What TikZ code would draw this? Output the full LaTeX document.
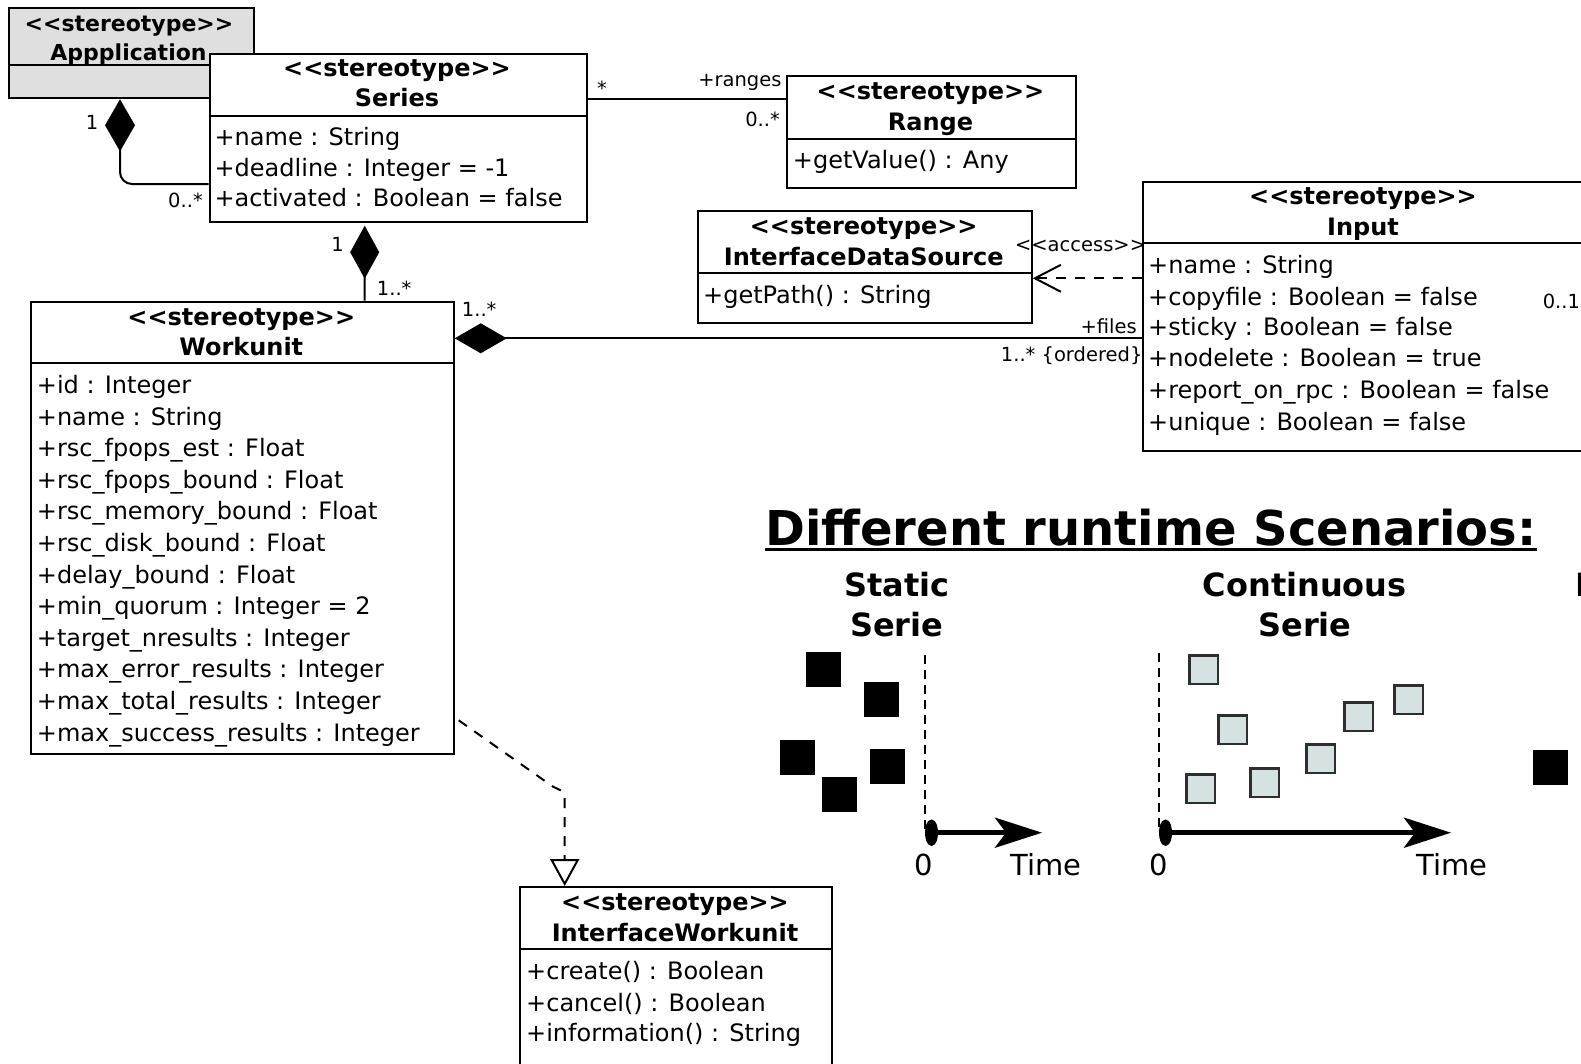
\documentclass[tikz,border=0pt]{standalone}
\usepackage{fontspec}
\newfontfamily\uml{DejaVu Sans}
\usetikzlibrary{arrows.meta,calc}

\definecolor{appgray}{HTML}{DFDFDF}
\definecolor{slotfill}{HTML}{D6E1E1}
\definecolor{slotline}{HTML}{2E2E2E}

\tikzset{
  umlbox/.style={draw, line width=2pt, fill=white, inner sep=0pt, anchor=north west},
  hd/.style={inner sep=0pt, anchor=base, font=\uml\bfseries\fontsize{24}{28}\selectfont},
  attr/.style={inner sep=0pt, anchor=base west, font=\uml\fontsize{24}{28}\selectfont},
  lbl/.style={inner sep=0pt, font=\uml\fontsize{19.5}{22}\selectfont},
  conn/.style={line width=2pt},
  dep/.style={line width=2pt, dash pattern=on 10pt off 9pt},
  compo/.style={{Diamond[length=52pt,width=30pt]}-},
  scen/.style={inner sep=0pt, anchor=base, font=\uml\bfseries\fontsize{32}{36}\selectfont},
  axislbl/.style={inner sep=0pt, font=\uml\fontsize{29}{32}\selectfont},
  job/.style={fill=black, draw=none, inner sep=0pt, minimum size=35pt, anchor=north west},
  slot/.style={fill=slotfill, draw=slotline, line width=2.5pt, inner sep=0pt, minimum size=28.5pt},
  startline/.style={line width=2.5pt, dash pattern=on 9pt off 6pt},
  timeaxis/.style={line width=5pt, {Ellipse[length=13pt,width=26pt]}-{Stealth[length=47pt,width=30pt,inset=11pt]}}
}

\begin{document}
\begin{tikzpicture}[x=1pt, y=-1pt]
\useasboundingbox (0,0) rectangle (1581,1063);
\clip (0,0) rectangle (1581,1063);
\fill[white] (0,0) rectangle (1581,1063);

% ---------- Application ----------
\node[umlbox, fill=appgray, minimum width=245pt, minimum height=90.6pt] (app) at (7.7,6.7) {};
\draw[conn] ([yshift=-58.3pt]app.north west) -- ([yshift=-58.3pt]app.north east);
\node[hd, font=\uml\bfseries\fontsize{22}{26}\selectfont] (app-st) at (129,31.2) {<<stereotype>>};
\node[hd, font=\uml\bfseries\fontsize{22}{26}\selectfont] (app-name) at (128.5,60.2) {Appplication};

% ---------- Series ----------
\node[umlbox, minimum width=376.9pt, minimum height=168pt] (series) at (208.6,52.7) {};
\draw[conn] ([yshift=-63.3pt]series.north west) -- ([yshift=-63.3pt]series.north east);
\node[hd] (series-st) at (397,76.5) {<<stereotype>>};
\node[hd] (series-name) at (397,106.5) {Series};
\node[attr] (series-a1) at (214.4,145.2) {+name : String};
\node[attr] (series-a2) at (214.4,176.8) {+deadline : Integer = -1};
\node[attr] (series-a3) at (214.4,206.8) {+activated : Boolean = false};

% ---------- Range ----------
\node[umlbox, minimum width=289pt, minimum height=112pt] (range) at (786,75) {};
\draw[conn] ([yshift=-64pt]range.north west) -- ([yshift=-64pt]range.north east);
\node[hd] (range-st) at (930.5,99.2) {<<stereotype>>};
\node[hd] (range-name) at (930.5,130.2) {Range};
\node[attr] (range-a1) at (792.7,168.5) {+getValue() : Any};

% ---------- InterfaceDataSource ----------
\node[umlbox, minimum width=334pt, minimum height=112.3pt] (ids) at (696.7,210) {};
\draw[conn] ([yshift=-63.3pt]ids.north west) -- ([yshift=-63.3pt]ids.north east);
\node[hd] (ids-st) at (863.7,234.2) {<<stereotype>>};
\node[hd] (ids-name) at (863.7,265.2) {InterfaceDataSource};
\node[attr] (ids-a1) at (703,303.5) {+getPath() : String};

% ---------- Input ----------
\node[umlbox, minimum width=442pt, minimum height=269.3pt] (input) at (1141.9,180.7) {};
\draw[conn] ([yshift=-62.6pt]input.north west) -- ([yshift=-62.6pt]input.north east);
\node[hd] (input-st) at (1363,204.5) {<<stereotype>>};
\node[hd] (input-name) at (1363,235.8) {Input};
\node[attr] (input-a1) at (1148,273.5) {+name : String};
\node[attr] (input-a2) at (1148,305.2) {+copyfile : Boolean = false};
\node[attr] (input-a3) at (1148,335.2) {+sticky : Boolean = false};
\node[attr] (input-a4) at (1148,366.8) {+nodelete : Boolean = true};
\node[attr] (input-a5) at (1148,398.5) {+report\_on\_rpc : Boolean = false};
\node[attr] (input-a6) at (1148,430.2) {+unique : Boolean = false};

% ---------- Workunit ----------
\node[umlbox, minimum width=422.7pt, minimum height=452pt] (workunit) at (30,300.7) {};
\draw[conn] ([yshift=-62.6pt]workunit.north west) -- ([yshift=-62.6pt]workunit.north east);
\node[hd] (wu-st) at (241.3,325.2) {<<stereotype>>};
\node[hd] (wu-name) at (241.3,355.2) {Workunit};
\foreach \t [count=\i from 0] in {%
  +id : Integer,
  +name : String,
  +rsc\_fpops\_est : Float,
  +rsc\_fpops\_bound : Float,
  +rsc\_memory\_bound : Float,
  +rsc\_disk\_bound : Float,
  +delay\_bound : Float,
  +min\_quorum : Integer = 2,
  +target\_nresults : Integer,
  +max\_error\_results : Integer,
  +max\_total\_results : Integer,
  +max\_success\_results : Integer}
  \node[attr] (wu-a\i) at (36.7,393.5+31.6*\i) {\t};

% ---------- InterfaceWorkunit ----------
\node[umlbox, minimum width=311.4pt, minimum height=200pt] (iwu) at (519.3,886) {};
\draw[conn] ([yshift=-63.3pt]iwu.north west) -- ([yshift=-63.3pt]iwu.north east);
\node[hd] (iwu-st) at (675,910.2) {<<stereotype>>};
\node[hd] (iwu-name) at (675,941.8) {InterfaceWorkunit};
\node[attr] (iwu-a1) at (526,979.2) {+create() : Boolean};
\node[attr] (iwu-a2) at (526,1011.8) {+cancel() : Boolean};
\node[attr] (iwu-a3) at (526,1041.8) {+information() : String};

% ---------- Connectors ----------
% Application <>-- Series
\draw[conn, compo, rounded corners=12pt] ([xshift=112.3pt]app.south west) |- ([yshift=-46.3pt]series.west);
\node[lbl, anchor=base] (l-app1) at (92,129) {1};
\node[lbl, anchor=base east] (l-app2) at (203,207) {0..*};

% Series --- Range
\coordinate (sr) at ([yshift=-46.6pt]series.north east);
\draw[conn] (sr) -- (sr -| range.west);
\node[lbl, anchor=base] (l-sr1) at (602,95.7) {*};
\node[lbl, anchor=base east] (l-sr2) at (781.7,86) {+ranges};
\node[lbl, anchor=base east] (l-sr3) at (780,126.7) {0..*};

% Series <>-- Workunit
\draw[conn, {Diamond[length=53pt,width=29pt]}-] ([xshift=156.1pt,yshift=-3pt]series.south west) -- ([xshift=334.7pt]workunit.north west);
\node[lbl, anchor=base] (l-sw1) at (337.5,251.7) {1};
\node[lbl, anchor=base west] (l-sw2) at (376.7,295) {1..*};

% Workunit <>-- Input
\coordinate (wi) at ([yshift=-37.6pt]workunit.north east);
\draw[conn, compo] (wi) -- (wi -| input.west);
\node[lbl, anchor=base west] (l-wi1) at (461.7,316.7) {1..*};
\node[lbl, anchor=base east] (l-wi2) at (1137,333.3) {+files};
\node[lbl, anchor=base east] (l-wi3) at (1142.6,361) {1..* \{ordered\}};
\node[lbl, anchor=base west] (l-in1) at (1542.6,308.3) {0..1};

% Input - - > InterfaceDataSource
\coordinate (ia) at ([yshift=-97.6pt]input.north west);
\draw[dep, -{Straight Barb[length=26pt,width=27pt,line width=2pt]}] (ia) -- (ia -| ids.east);
\node[lbl, anchor=base west] (l-acc) at (1014.8,251.7) {<<access>>};

% Workunit - - |> InterfaceWorkunit
\coordinate (wr) at ([xshift=4pt,yshift=34.4pt]workunit.south east);
\coordinate (wr-top) at ([xshift=45.4pt]iwu.north west);
\draw[dep, -{Triangle[open,length=27pt,width=29pt,line width=2pt]}]
  (wr) -- (553,786.7) .. controls (564.7,792) .. (564.7,801) -- (wr-top);

% ---------- Runtime scenarios ----------
\node[inner sep=0pt, anchor=base west, font=\uml\bfseries\fontsize{48}{54}\selectfont] (title) at (765,545) {Different runtime Scenarios:};
\draw[line width=3.5pt] ([yshift=-4.5pt]title.base west) -- ([yshift=-4.5pt]title.base east);

\node[scen] (static1) at (896.7,596) {Static};
\node[scen] (static2) at (896.7,636.7) {Serie};
\node[scen] (cont1) at (1304.7,596) {Continuous};
\node[scen] (cont2) at (1305,636.7) {Serie};
\node[scen, anchor=base west] (dyn1) at (1575,596) {Dynamic};

% static serie: all jobs exist before time 0
\node[job] (sj1) at (806,652) {};
\node[job] (sj2) at (864,682) {};
\node[job] (sj3) at (780,739.5) {};
\node[job] (sj4) at (870,748.5) {};
\node[job] (sj5) at (822,776.5) {};
\coordinate (s-zero) at (925,832.7);
\draw[startline] (925,655) -- (s-zero);
\draw[timeaxis] (s-zero) -- (1042,832.7);
\node[axislbl, anchor=base] (s0) at (924,875) {0};
\node[axislbl, anchor=base west] (stime) at (1010,875) {Time};

% continuous serie: jobs arrive over time
\node[slot] (cj1) at (1203.5,669.5) {};
\node[slot] (cj2) at (1232.5,729.5) {};
\node[slot] (cj3) at (1200.5,788.5) {};
\node[slot] (cj4) at (1264.5,782.5) {};
\node[slot] (cj5) at (1320.5,758.5) {};
\node[slot] (cj6) at (1358.5,716.5) {};
\node[slot] (cj7) at (1408.5,699.5) {};
\coordinate (c-zero) at (1159,832.7);
\draw[startline] (1159,653) -- (c-zero);
\draw[timeaxis] (c-zero) -- (1451,832.7);
\node[axislbl, anchor=base] (c0) at (1159,875) {0};
\node[axislbl, anchor=base west] (ctime) at (1416,875) {Time};

% third serie (partly visible)
\node[job] (dj1) at (1532.7,749.3) {};
\end{tikzpicture}
\end{document}
